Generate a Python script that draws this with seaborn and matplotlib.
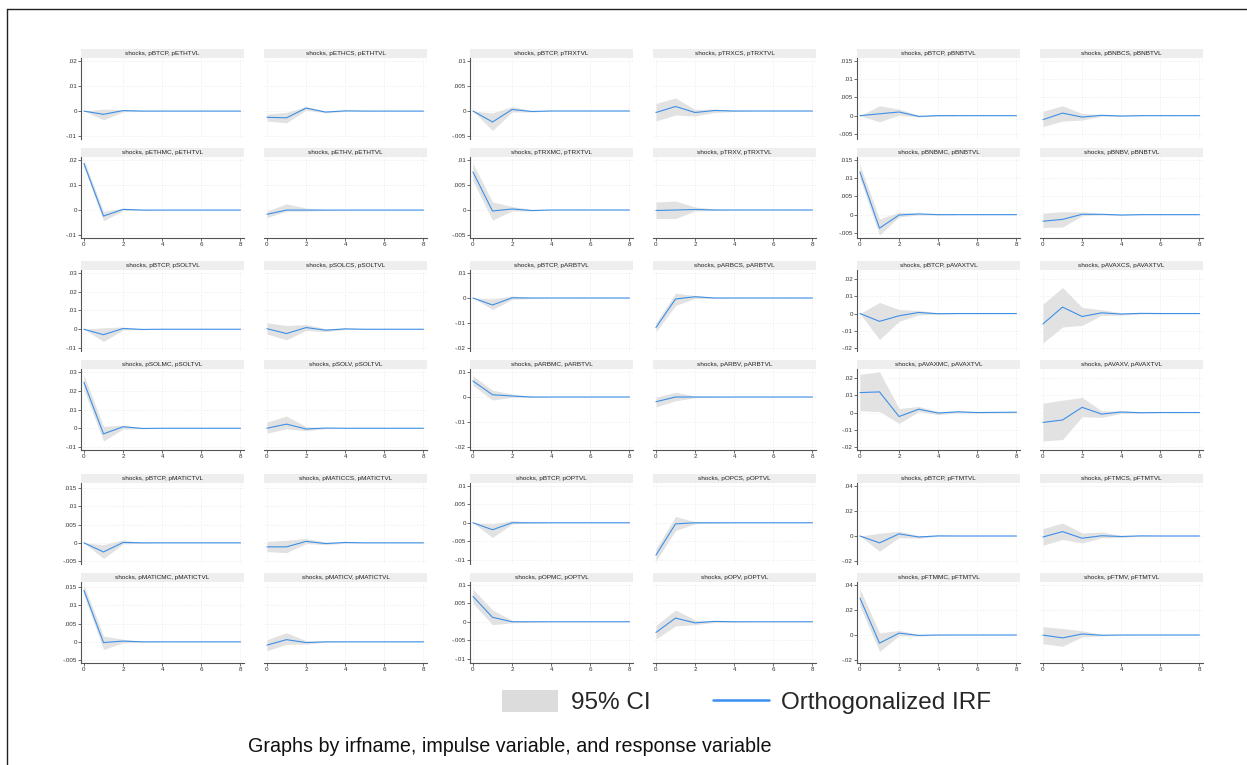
import pandas as pd
import seaborn as sns
import matplotlib.pyplot as plt
from matplotlib.patches import Rectangle, Patch
from matplotlib.lines import Line2D

sns.set_theme(style="white")
plt.rcParams['font.family'] = ['Liberation Sans', 'DejaVu Sans']

steps = list(range(9))
assets = ["ETH", "TRX", "BNB", "SOL", "ARB", "AVAX", "MATIC", "OP", "FTM"]

# panel order in each block: pBTCP, p<X>CS, p<X>MC, p<X>V  ->  p<X>TVL
eth_irf = [[0, -0.0013, 0.0002, 0, 0, 0, 0, 0, 0],
           [-0.0025, -0.0027, 0.0012, -0.0004, 0.0001, 0, 0, 0, 0],
           [0.0187, -0.0024, 0.0003, 0, 0, 0, 0, 0, 0],
           [-0.0017, 0, 0, 0, 0, 0, 0, 0, 0]]
eth_lo = [[0, -0.0035, -0.0003, -0.0001, 0, 0, 0, 0, 0],
          [-0.004, -0.0047, 0.0004, -0.0007, -0.0001, 0, 0, 0, 0],
          [0.0172, -0.0043, -0.0002, -0.0001, 0, 0, 0, 0, 0],
          [-0.003, -0.0004, -0.0004, -0.0001, 0, 0, 0, 0, 0]]
eth_hi = [[0, 0.0008, 0.0005, 0.0001, 0, 0, 0, 0, 0],
          [-0.0012, -0.0005, 0.0018, 0, 0.0003, 0.0001, 0, 0, 0],
          [0.0201, -0.0005, 0.0007, 0.0002, 0, 0, 0, 0, 0],
          [-0.0004, 0.0025, 0.0008, 0.0002, 0, 0, 0, 0, 0]]

trx_irf = [[0, -0.0022, 0.0003, -0.0001, 0, 0, 0, 0, 0],
           [-0.0003, 0.0009, -0.0003, 0.0001, 0, 0, 0, 0, 0],
           [0.0076, -0.0002, 0.0002, -0.0001, 0, 0, 0, 0, 0],
           [-0.0001, 0, 0.0001, 0, 0, 0, 0, 0, 0]]
trx_lo = [[0, -0.0039, -0.0002, -0.0002, 0, 0, 0, 0, 0],
          [-0.002, -0.0008, -0.001, -0.0003, -0.0001, 0, 0, 0, 0],
          [0.0058, -0.002, -0.0002, -0.0002, 0, 0, 0, 0, 0],
          [-0.0017, -0.0017, -0.0002, -0.0001, 0, 0, 0, 0, 0]]
trx_hi = [[0, -0.0004, 0.0009, 0.0001, 0, 0, 0, 0, 0],
          [0.0015, 0.0026, 0.0003, 0.0004, 0.0001, 0, 0, 0, 0],
          [0.0093, 0.0016, 0.0007, 0.0001, 0, 0, 0, 0, 0],
          [0.0016, 0.0018, 0.0006, 0.0002, 0, 0, 0, 0, 0]]

bnb_irf = [[0, 0.0005, 0.001, -0.0002, 0, 0, 0, 0, 0],
           [-0.0011, 0.0007, -0.0004, 0.0001, -0.0001, 0, 0, 0, 0],
           [0.0117, -0.0037, -0.0001, 0.0002, 0, 0, 0, 0, 0],
           [-0.0018, -0.0013, 0.0001, 0.0001, -0.0001, 0, 0, 0, 0]]
bnb_lo = [[0, -0.0017, 0.0002, -0.0004, -0.0001, 0, 0, 0, 0],
          [-0.003, -0.0015, -0.0012, -0.0002, -0.0002, 0, 0, 0, 0],
          [0.0099, -0.0056, -0.0006, -0.0001, -0.0001, 0, 0, 0, 0],
          [-0.0035, -0.0034, -0.0003, -0.0001, -0.0002, 0, 0, 0, 0]]
bnb_hi = [[0, 0.0027, 0.0018, 0.0001, 0.0001, 0, 0, 0, 0],
          [0.0012, 0.0027, 0.0006, 0.0003, 0.0001, 0, 0, 0, 0],
          [0.0136, -0.0012, 0.0007, 0.0004, 0.0001, 0, 0, 0, 0],
          [0.0004, 0.0008, 0.0008, 0.0003, 0.0001, 0, 0, 0, 0]]

sol_irf = [[0, -0.0029, 0.0004, -0.0001, 0, 0, 0, 0, 0],
           [0.0003, -0.0023, 0.0009, -0.0005, 0.0002, 0, 0, 0, 0],
           [0.0245, -0.003, 0.0008, -0.0001, 0, 0, 0, 0, 0],
           [0, 0.0022, -0.0004, 0.0001, 0, 0, 0, 0, 0]]
sol_lo = [[0, -0.0065, -0.0004, -0.0002, 0, 0, 0, 0, 0],
          [-0.0026, -0.0056, -0.0006, -0.0013, -0.0002, -0.0001, 0, 0, 0],
          [0.0205, -0.0068, -0.0004, -0.0003, 0, 0, 0, 0, 0],
          [-0.0026, -0.0003, -0.0013, -0.0002, 0, 0, 0, 0, 0]]
sol_hi = [[0, 0.0008, 0.0012, 0.0001, 0, 0, 0, 0, 0],
          [0.0034, 0.002, 0.0025, 0.0003, 0.0006, 0.0001, 0, 0, 0],
          [0.0283, 0.001, 0.0016, 0.0002, 0, 0, 0, 0, 0],
          [0.0033, 0.0065, 0.0009, 0.0003, 0, 0, 0, 0, 0]]

arb_irf = [[0, -0.0028, 0.0001, 0, 0, 0, 0, 0, 0],
           [-0.0118, -0.0004, 0.0005, 0, 0, 0, 0, 0, 0],
           [0.0064, 0.0009, 0.0004, 0, 0, 0, 0, 0, 0],
           [-0.0019, 0, 0, 0, 0, 0, 0, 0, 0]]
arb_lo = [[0, -0.0046, -0.0006, -0.0002, 0, 0, 0, 0, 0],
          [-0.0135, -0.003, -0.0002, -0.0002, 0, 0, 0, 0, 0],
          [0.0046, -0.0012, -0.0001, -0.0002, 0, 0, 0, 0, 0],
          [-0.004, -0.0015, -0.0003, -0.0001, 0, 0, 0, 0, 0]]
arb_hi = [[0, -0.0004, 0.0008, 0.0001, 0, 0, 0, 0, 0],
          [-0.01, 0.0019, 0.001, 0.0002, 0, 0, 0, 0, 0],
          [0.0085, 0.0027, 0.0012, 0.0002, 0, 0, 0, 0, 0],
          [-0.0001, 0.0019, 0.0004, 0.0001, 0, 0, 0, 0, 0]]

avax_irf = [[0, -0.0045, -0.0013, 0.0006, -0.0001, 0, 0, 0, 0],
            [-0.006, 0.0037, -0.0017, 0.0004, -0.0003, 0.0001, 0, 0, 0],
            [0.0115, 0.0119, -0.0023, 0.0019, -0.0003, 0.0004, 0, 0.0001, 0.0002],
            [-0.0057, -0.0043, 0.003, -0.0009, 0.0003, -0.0001, 0, 0, 0]]
avax_lo = [[0, -0.015, -0.0045, -0.0008, -0.0004, 0, 0, 0, 0],
           [-0.017, -0.0078, -0.0068, -0.0011, -0.0009, -0.0002, 0, 0, 0],
           [0.001, 0.0006, -0.0063, 0.0005, -0.0012, -0.0002, -0.0004, -0.0002, -0.0002],
           [-0.0163, -0.0156, -0.0024, -0.0028, -0.0005, -0.0003, 0, 0, 0]]
avax_hi = [[0, 0.0064, 0.0023, 0.0018, 0.0003, 0, 0, 0, 0],
           [0.0054, 0.015, 0.0035, 0.0022, 0.0004, 0.0003, 0, 0, 0],
           [0.022, 0.0235, 0.0023, 0.0035, 0.0006, 0.001, 0.0005, 0.0005, 0.0006],
           [0.0054, 0.0071, 0.0087, 0.001, 0.001, 0.0002, 0, 0, 0]]

matic_irf = [[0, -0.0025, 0.0001, 0, 0, 0, 0, 0, 0],
             [-0.0011, -0.0011, 0.0004, -0.0002, 0.0001, 0, 0, 0, 0],
             [0.0141, -0.0002, 0.0002, 0, 0, 0, 0, 0, 0],
             [-0.0009, 0.0006, -0.0002, 0, 0, 0, 0, 0, 0]]
matic_lo = [[0, -0.0043, -0.0003, -0.0001, 0, 0, 0, 0, 0],
            [-0.0024, -0.0027, -0.0002, -0.0005, -0.0001, 0, 0, 0, 0],
            [0.0128, -0.0021, -0.0003, -0.0001, 0, 0, 0, 0, 0],
            [-0.0024, -0.0007, -0.0006, -0.0001, 0, 0, 0, 0, 0]]
matic_hi = [[0, -0.0005, 0.0008, 0.0001, 0, 0, 0, 0, 0],
            [0.0004, 0.0007, 0.0012, 0.0002, 0.0002, 0, 0, 0, 0],
            [0.0156, 0.0016, 0.0007, 0.0001, 0, 0, 0, 0, 0],
            [0.0006, 0.0025, 0.0003, 0.0001, 0, 0, 0, 0, 0]]

op_irf = [[0, -0.0019, 0, 0, 0, 0, 0, 0, 0],
          [-0.0088, -0.0003, 0, 0, 0, 0, 0, 0, 0],
          [0.0069, 0.0012, 0, 0, 0, 0, 0, 0, 0],
          [-0.0029, 0.001, -0.0003, 0.0001, 0, 0, 0, 0, 0]]
op_lo = [[0, -0.004, -0.0003, -0.0001, 0, 0, 0, 0, 0],
         [-0.0104, -0.0021, -0.0003, -0.0001, 0, 0, 0, 0, 0],
         [0.005, -0.0008, -0.0003, -0.0001, 0, 0, 0, 0, 0],
         [-0.0047, -0.0011, -0.0008, -0.0002, -0.0001, 0, 0, 0, 0]]
op_hi = [[0, -0.0003, 0.0006, 0.0001, 0, 0, 0, 0, 0],
         [-0.0071, 0.0017, 0.0003, 0.0001, 0, 0, 0, 0, 0],
         [0.0088, 0.0032, 0.0004, 0.0001, 0, 0, 0, 0, 0],
         [-0.001, 0.0032, 0.0005, 0.0003, 0.0001, 0, 0, 0, 0]]

ftm_irf = [[0, -0.0055, 0.0017, -0.0008, 0.0001, 0, 0, 0, 0],
           [-0.0008, 0.0035, -0.0018, 0.0002, -0.0004, 0.0001, 0, 0, 0],
           [0.0295, -0.0065, 0.0015, -0.0003, 0, 0, 0, 0, 0],
           [-0.0001, -0.0023, 0.0008, -0.0002, 0, 0, 0, 0, 0]]
ftm_lo = [[0, -0.0122, -0.0012, -0.0018, -0.0003, 0, 0, 0, 0],
          [-0.0075, -0.0027, -0.0056, -0.0014, -0.0012, -0.0002, 0, 0, 0],
          [0.0232, -0.0132, -0.0005, -0.0009, -0.0002, 0, 0, 0, 0],
          [-0.007, -0.009, -0.0015, -0.0007, -0.0001, 0, 0, 0, 0]]
ftm_hi = [[0, 0.0022, 0.0038, 0.0004, 0.0004, 0, 0, 0, 0],
          [0.0059, 0.0103, 0.0025, 0.0032, 0.0004, 0.0004, 0, 0, 0],
          [0.0368, 0.0016, 0.0037, 0.0003, 0.0002, 0, 0, 0, 0],
          [0.0067, 0.0052, 0.0034, 0.0005, 0.0002, 0, 0, 0, 0]]

yticks = {
    "ETH": [-.01, 0, .01, .02],
    "TRX": [-.005, 0, .005, .01],
    "BNB": [-.005, 0, .005, .01, .015],
    "SOL": [-.01, 0, .01, .02, .03],
    "ARB": [-.02, -.01, 0, .01],
    "AVAX": [-.02, -.01, 0, .01, .02],
    "MATIC": [-.005, 0, .005, .01, .015],
    "OP": [-.01, -.005, 0, .005, .01],
    "FTM": [-.02, 0, .02, .04],
}

irf = {"ETH": eth_irf, "TRX": trx_irf, "BNB": bnb_irf, "SOL": sol_irf, "ARB": arb_irf,
       "AVAX": avax_irf, "MATIC": matic_irf, "OP": op_irf, "FTM": ftm_irf}
lo = {"ETH": eth_lo, "TRX": trx_lo, "BNB": bnb_lo, "SOL": sol_lo, "ARB": arb_lo,
      "AVAX": avax_lo, "MATIC": matic_lo, "OP": op_lo, "FTM": ftm_lo}
hi = {"ETH": eth_hi, "TRX": trx_hi, "BNB": bnb_hi, "SOL": sol_hi, "ARB": arb_hi,
      "AVAX": avax_hi, "MATIC": matic_hi, "OP": op_hi, "FTM": ftm_hi}

# long table
rows = []
for a in assets:
    impulses = ["pBTCP", f"p{a}CS", f"p{a}MC", f"p{a}V"]
    for k, imp in enumerate(impulses):
        for s in steps:
            rows.append({"asset": a, "panel": k, "title": f"shocks, {imp}, p{a}TVL",
                         "step": s, "irf": irf[a][k][s], "lo": lo[a][k][s], "hi": hi[a][k][s]})
df = pd.DataFrame(rows)


def stata_fmt(v, pos=None):
    if abs(v) < 1e-12:
        return "0"
    return f"{v:g}".replace("0.", ".")


W, H = 1247, 765
fig = plt.figure(figsize=(W / 100, H / 100), dpi=100)

block_x = [81, 470, 857]
block_y = [58, 270, 483]
pw, ph = 163, 81
dx_right, dy_bottom = 183, 99
strip_h = 8.5

line_col = '#3d8fe8'
ci_col = '#e2e2e2'
axis_col = '#555555'

for b, a in enumerate(assets):
    r, c = divmod(b, 3)
    t = yticks[a]
    dmin = min(min(x) for x in lo[a])
    dmax = max(max(x) for x in hi[a])
    rng = max(t) - min(t)
    ylo = min(min(t), dmin) - 0.04 * rng
    yhi = max(max(t), dmax) + 0.04 * rng
    for k in range(4):
        pr, pc = divmod(k, 2)
        x0 = block_x[c] + pc * dx_right
        ytop = block_y[r] + pr * dy_bottom
        ax = fig.add_axes([x0 / W, 1 - (ytop + ph) / H, pw / W, ph / H])
        sub = df[(df.asset == a) & (df.panel == k)]

        ax.fill_between(sub.step, sub.lo, sub.hi, color=ci_col, lw=0, zorder=1)
        sns.lineplot(data=sub, x='step', y='irf', ax=ax, color=line_col, lw=0.8, zorder=3)
        ax.set_xlabel('')
        ax.set_ylabel('')

        ax.set_xlim(-0.15, 8.18)
        ax.set_ylim(ylo, yhi)
        ax.set_xticks([0, 2, 4, 6, 8])
        ax.set_yticks(t)
        ax.yaxis.set_major_formatter(stata_fmt)
        ax.grid(True, color='#ebebeb', lw=0.5, ls=(0, (2, 2)))
        ax.set_axisbelow(True)

        for sp in ['top', 'right']:
            ax.spines[sp].set_visible(False)
        ax.spines['left'].set_color(axis_col)
        ax.spines['left'].set_linewidth(0.8)
        ax.spines['bottom'].set_color(axis_col)
        ax.spines['bottom'].set_linewidth(0.8)
        ax.tick_params(labelsize=4.5, length=2, width=0.6, color=axis_col,
                       labelcolor='#333333', pad=1, left=True, bottom=True)
        if pc == 1:
            ax.spines['left'].set_visible(False)
            ax.tick_params(left=False, labelleft=False)
        if pr == 0:
            ax.spines['bottom'].set_visible(False)
            ax.tick_params(bottom=False, labelbottom=False)

        # title strip
        ax.add_patch(Rectangle((0, 1 + 0.5 / ph), 1, strip_h / ph, transform=ax.transAxes,
                               facecolor='#eeeeee', edgecolor='none', clip_on=False))
        ax.text(0.5, 1 + (0.5 + strip_h / 2) / ph, sub.title.iloc[0], transform=ax.transAxes,
                ha='center', va='center', fontsize=4.6, color='#222222')

handles = [Patch(facecolor='#dcdcdc', edgecolor='none'),
           Line2D([0], [0], color='#3a8ff0', lw=1.8)]
fig.legend(handles, ['95% CI', 'Orthogonalized IRF'], loc='center',
           bbox_to_anchor=(747 / W, 1 - 702 / H), ncol=2, frameon=False, fontsize=17.5,
           handlelength=2.3, handleheight=1.0, handletextpad=0.5, columnspacing=2.6)

fig.text(248 / W, 1 - 747 / H, "Graphs by irfname, impulse variable, and response variable",
         fontsize=14.2, va='center', ha='left', color='#111111')

# outer frame (left and top edges visible)
fig.add_artist(Line2D([6.5 / W, 6.5 / W], [0, 1 - 9 / H], color='#222222', lw=1.0,
                      transform=fig.transFigure))
fig.add_artist(Line2D([6.5 / W, 1], [1 - 9 / H, 1 - 9 / H], color='#222222', lw=1.0,
                      transform=fig.transFigure))

fig.savefig('out.png', dpi=100)
